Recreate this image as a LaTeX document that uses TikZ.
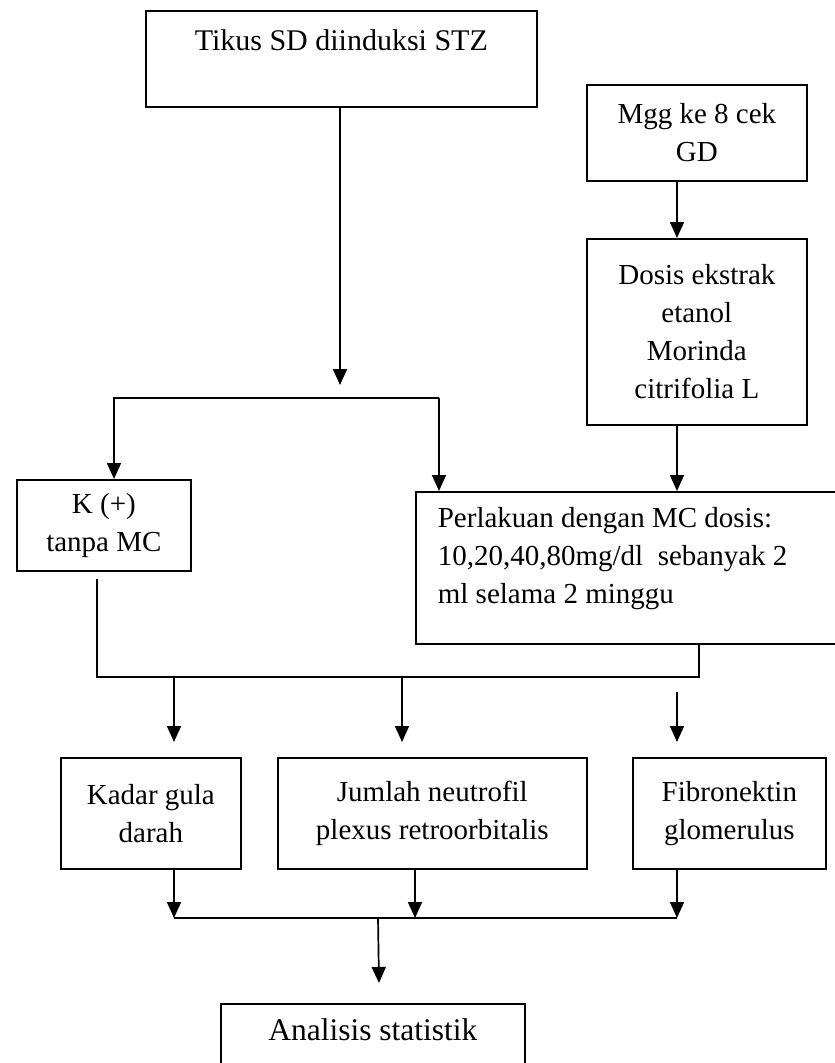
\documentclass[tikz,border=0pt]{standalone}
\usepackage{fontspec}
\setmainfont{Liberation Serif}
\usepackage{tikz}
\usetikzlibrary{arrows.meta, positioning, calc}

\tikzset{
  kotak/.style={draw=black, line width=1.7pt, rectangle, anchor=north west,
    align=center, inner sep=0pt, font=\fontsize{29}{38}\selectfont},
  kotakbesar/.style={kotak, font=\fontsize{31.5}{40}\selectfont},
  panah/.style={line width=1.7pt, -{Triangle[length=16pt,width=14pt]}},
  garis/.style={line width=1.7pt}
}

\begin{document}
\begin{tikzpicture}[x=1pt, y=-1pt]
  \useasboundingbox (0,0) rectangle (835,1063);
  \clip (0,0) rectangle (835,1063);

  % kotak
  \node[kotakbesar, font=\fontsize{30}{40}\selectfont, minimum width=391pt, minimum height=96pt] (tikus) at (145,10)
    {Tikus SD diinduksi STZ\\[-14pt] \strut};
  \node[kotak, minimum width=220pt, minimum height=96pt] (mgg) at (586,84)
    {Mgg ke 8 cek\\GD};
  \node[kotak, minimum width=220pt, minimum height=186pt] (dosis) at (586,238)
    {Dosis ekstrak\\etanol\\Morinda\\citrifolia L};
  \node[kotak, minimum width=174pt, minimum height=91pt] (kplus) at (16,479)
    {K (+)\\tanpa MC};
  \node[kotak, align=flush left, inner xsep=22pt, text width=456pt, minimum height=152pt] (perlakuan) at (415,491)
    {Perlakuan dengan MC dosis:\\10,20,40,80mg/dl\ \ sebanyak 2\\ml selama 2 minggu\\[-24pt]\strut};
  \node[kotak, minimum width=180pt, minimum height=111pt] (kadar) at (60,757)
    {Kadar gula\\darah};
  \node[kotak, minimum width=309pt, minimum height=111pt] (jumlah) at (277,757)
    {Jumlah neutrofil\\plexus retroorbitalis};
  \node[kotak, minimum width=193pt, minimum height=111pt] (fibro) at (632,757)
    {Fibronektin\\glomerulus};
  \node[kotakbesar, minimum width=304pt, minimum height=96pt] (analisis) at (220,1003)
    {Analisis statistik\\[-8pt] \strut};

  % titik bantu
  \coordinate (cabang) at (340,398);
  \coordinate (kiriA) at (114,398);
  \coordinate (kananA) at (439,398);
  \coordinate (jalurKanan) at (677,0);
  \coordinate (gabungKiri) at (97,677);
  \coordinate (gabungKanan) at (699,677);
  \coordinate (turun1) at (174,677);
  \coordinate (turun2) at (402,677);
  \coordinate (turun3) at (677,692);
  \coordinate (hasilKiri) at (174,918);
  \coordinate (hasilKanan) at (677,918);
  \coordinate (hasilTengah) at (415,918);
  \coordinate (akhir) at (378,918);

  % panah atas
  \draw[panah] (tikus.south -| cabang) -- ([yshift=13pt]cabang);
  \draw[panah] (kananA) -| (kplus.north -| kiriA);
  \draw[panah] (kananA) -- (perlakuan.north -| kananA);
  \draw[panah] (mgg.south -| jalurKanan) -- (dosis.north -| jalurKanan);
  \draw[panah] (dosis.south -| jalurKanan) -- (perlakuan.north -| jalurKanan);

  % gabungan tengah
  \draw[garis] ([yshift=-7pt]kplus.south -| gabungKiri) -- (gabungKiri) -- (gabungKanan)
    -- (perlakuan.south -| gabungKanan);
  \draw[panah] (turun1) -- ([yshift=15pt]kadar.north -| turun1);
  \draw[panah] (turun2) -- ([yshift=15pt]jumlah.north -| turun2);
  \draw[panah] (turun3) -- ([yshift=15pt]fibro.north -| turun3);

  % gabungan bawah
  \draw[panah] (kadar.south -| hasilKiri) -- (hasilKiri);
  \draw[panah] (jumlah.south -| hasilTengah) -- (hasilTengah);
  \draw[panah] (fibro.south -| hasilKanan) -- (hasilKanan);
  \draw[garis] (hasilKiri) -- (hasilKanan);
  \draw[panah] (akhir) -- ([xshift=1pt,yshift=20pt]analisis.north -| akhir);
\end{tikzpicture}
\end{document}
